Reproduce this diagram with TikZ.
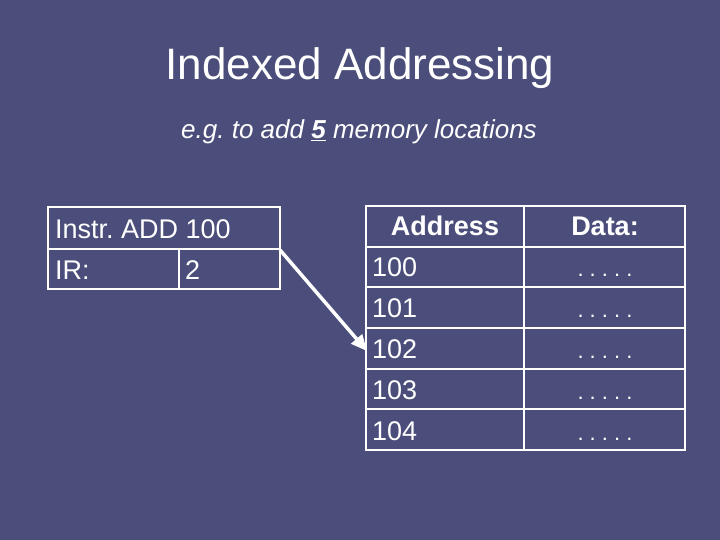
\documentclass[tikz,border=0pt]{standalone}
\usepackage{fontspec}
\setmainfont{Liberation Sans}
\usetikzlibrary{arrows.meta}
\definecolor{slidebg}{HTML}{4B4E7A}
\tikzset{
  celltext/.style={text=white, inner sep=0pt, anchor=base west, font=\fontsize{27}{30}\selectfont},
  ptr/.style={draw=white, line width=3.5pt, -{Triangle[length=16pt,width=14pt]}}
}
\frenchspacing
\begin{document}
\begin{tikzpicture}[x=1pt,y=-1pt]
  \fill[slidebg] (0,0) rectangle (720,540);
  \useasboundingbox (0,0) rectangle (720,540);
  \node[text=white, font=\fontsize{44}{50}\selectfont] (title) at (360,68) {Indexed Addressing};
  \node[text=white, font=\fontsize{26}{30}\selectfont\itshape] (sub) at (359,132) {e.g. to add \underline{\textbf{5}} memory locations};
  % instruction register box
  \draw[white, line width=2pt] (48,207) rectangle (280,289);
  \draw[white, line width=2pt] (48,249) -- (280,249) (179,249) -- (179,289);
  \node[celltext] (instr) at (55,239) {Instr. ADD 100};
  \node[celltext] (ir) at (55,279) {IR:};
  \node[celltext] (irval) at (185,279) {2};
  \coordinate (src) at (280,250);
  % memory table
  \draw[white, line width=2pt] (366,206) rectangle (685,450) (524,206) -- (524,450);
  \foreach \y in {247,287,328,369,409} \draw[white, line width=2pt] (366,\y) -- (685,\y);
  \node[celltext, anchor=base, font=\fontsize{27}{30}\selectfont\bfseries] (addr) at (445,236) {Address};
  \node[celltext, anchor=base, font=\fontsize{27}{30}\selectfont\bfseries] (data) at (605,236) {Data:};
  \foreach \a/\y in {100/276,101/317,102/358,103/399,104/440} {
    \node[celltext] (m\a) at (372,\y) {\a};
    \node[celltext, anchor=base, font=\fontsize{22}{26}\selectfont] (d\a) at (605,\y) {. . . . .};
  }
  \coordinate (dst) at (367,351);
  \draw[ptr] (src) -- (dst);
\end{tikzpicture}
\end{document}
